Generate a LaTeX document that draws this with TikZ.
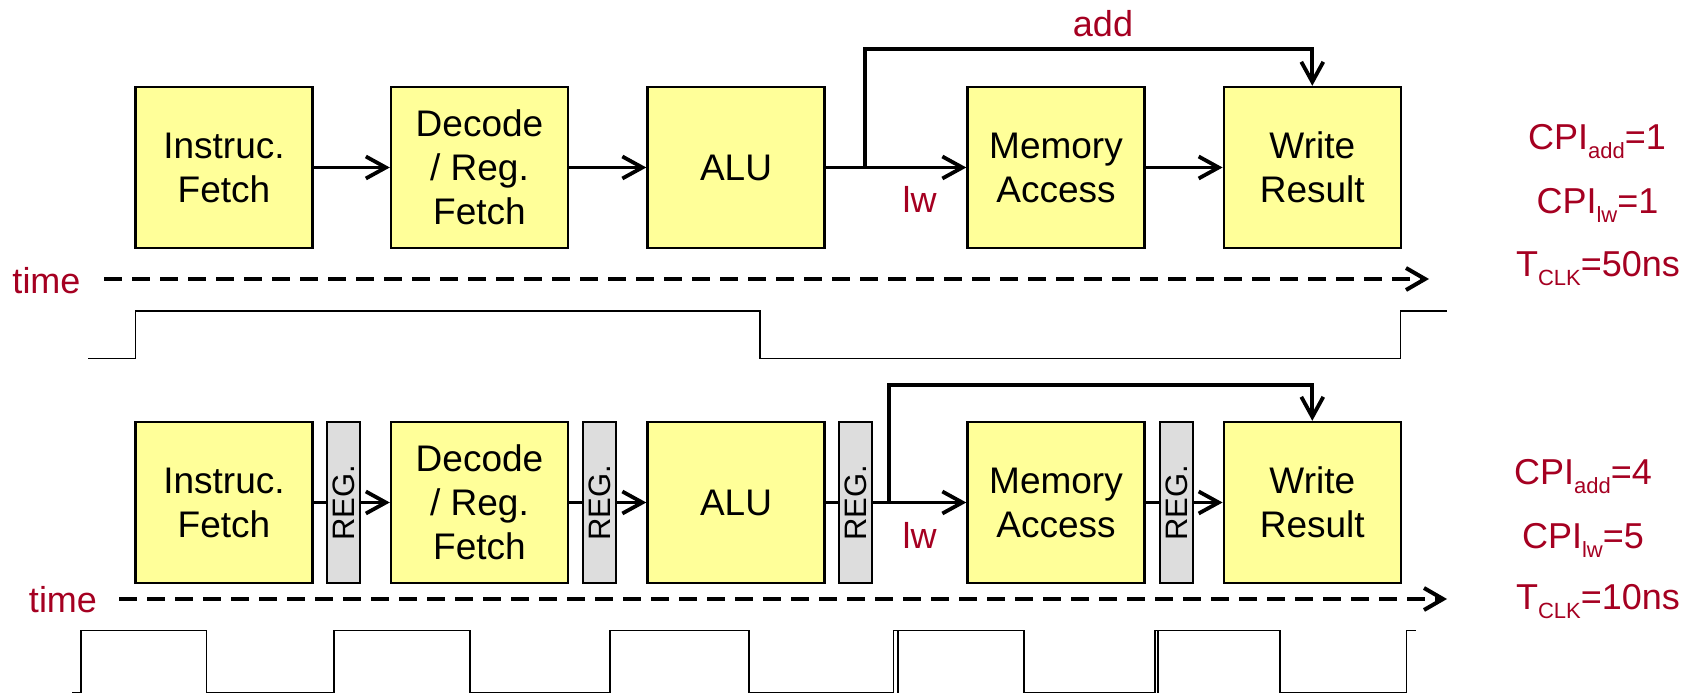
\documentclass[tikz,border=0pt]{standalone}
\usepackage{fontspec}
\setmainfont{Liberation Sans}
\usetikzlibrary{arrows.meta}
\definecolor{stagefill}{RGB}{255,255,153}
\definecolor{regfill}{RGB}{221,221,221}
\definecolor{labelred}{RGB}{165,0,33}
\newcommand{\lowidx}[1]{\raisebox{-4.5pt}{\fontsize{11}{11}\selectfont #1}}
\def\rowA{167.5}
\def\rowB{502.5}

\begin{document}
\begin{tikzpicture}[x=0.5pt, y=-0.5pt,
    stage/.style={draw, line width=1.2pt, fill=stagefill, minimum width=88.5pt, minimum height=80.5pt, inner sep=0pt, align=center, font=\fontsize{18.5}{22}\selectfont},
    reg/.style={draw, line width=1.2pt, fill=regfill, rotate=90, minimum width=80.5pt, minimum height=16.5pt, inner sep=0pt, font=\fontsize{15.5}{15.5}\selectfont},
    lbl/.style={text=labelred, anchor=base, inner sep=0pt, font=\fontsize{18}{18}\selectfont},
    wire/.style={line width=1.9pt},
    arr/.style={line width=1.9pt, -{Straight Barb[length=10pt,width=11pt]}},
    timeline/.style={line width=2pt, dash pattern=on 9pt off 5pt, -{Straight Barb[length=9.5pt,width=11pt]}},
    clock/.style={line width=0.8pt}]
      \useasboundingbox (0,0) rectangle (1703,694);

      \node[stage] (fetchA) at (224, \rowA) {Instruc.\\Fetch};
      \node[stage] (decodeA) at (479.5, \rowA) {Decode\\/ Reg.\\Fetch};
      \node[stage] (aluA) at (736, \rowA) {ALU};
      \node[stage] (memA) at (1056, \rowA) {Memory\\Access};
      \node[stage] (writeA) at (1312.3, \rowA) {Write\\Result};

      \draw[arr] (fetchA) -- (decodeA);
      \draw[arr] (decodeA) -- (aluA);
      \draw[arr] (aluA) -- (memA);
      \draw[arr] (memA) -- (writeA);
      \coordinate (splitA) at (865, \rowA);
      \coordinate (bendA) at (865, 49.3);
      \draw[arr] (splitA) -- (bendA) -| (writeA.north);

      \node[lbl] (addA) at (1103, 36.7) {add};
      \node[lbl] (lwA) at (919.5, 213) {lw};
      \node[lbl] (timeA) at (46.5, 293.3) {time};
      \coordinate (tA0) at (104, 279);
      \coordinate (tA1) at (1429, 279);
      \draw[timeline] (tA0) -- (tA1);

      \node[lbl] (cpiaddA) at (1597, 150) {CPI\lowidx{add}=1};
      \node[lbl] (cpilwA) at (1597.5, 213.3) {CPI\lowidx{lw}=1};
      \node[lbl] (tclkA) at (1598, 276.7) {T\lowidx{CLK}=50ns};

      \draw[clock] (88,358.7) -- (135.5,358.7) -- (135.5,311) -- (760,311) -- (760,358.7)
        -- (1400.5,358.7) -- (1400.5,311) -- (1447,311);

      \node[stage] (fetchB) at (224, \rowB) {Instruc.\\Fetch};
      \node[reg] (regB1) at (343.5, \rowB) {REG.};
      \node[stage] (decodeB) at (479.5, \rowB) {Decode\\/ Reg.\\Fetch};
      \node[reg] (regB2) at (599.5, \rowB) {REG.};
      \node[stage] (aluB) at (736, \rowB) {ALU};
      \node[reg] (regB3) at (855.5, \rowB) {REG.};
      \node[stage] (memB) at (1056, \rowB) {Memory\\Access};
      \node[reg] (regB4) at (1176.5, \rowB) {REG.};
      \node[stage] (writeB) at (1312.3, \rowB) {Write\\Result};

      \draw[wire] (fetchB) -- (regB1);
      \draw[arr] (regB1) -- (decodeB);
      \draw[wire] (decodeB) -- (regB2);
      \draw[arr] (regB2) -- (aluB);
      \draw[wire] (aluB) -- (regB3);
      \draw[arr] (regB3) -- (memB);
      \draw[wire] (memB) -- (regB4);
      \draw[arr] (regB4) -- (writeB);
      \coordinate (splitB) at (889, \rowB);
      \coordinate (bendB) at (889, 384.7);
      \draw[arr] (splitB) -- (bendB) -| (writeB.north);

      \node[lbl] (lwB) at (919.5, 548.3) {lw};
      \node[lbl] (timeB) at (63, 613) {time};
      \coordinate (tB0) at (119, 599);
      \coordinate (tB1) at (1447, 599);
      \draw[timeline] (tB0) -- (tB1);

      \node[lbl] (cpiaddB) at (1583, 485) {CPI\lowidx{add}=4};
      \node[lbl] (cpilwB) at (1583, 548.3) {CPI\lowidx{lw}=5};
      \node[lbl] (tclkB) at (1598, 610) {T\lowidx{CLK}=10ns};

      \draw[clock] (72,692.7) -- (81,692.7) -- (81,630.7) -- (206.5,630.7) -- (206.5,692.7)
        -- (334,692.7) -- (334,630.7) -- (470,630.7) -- (470,692.7)
        -- (610,692.7) -- (610,630.7) -- (749,630.7) -- (749,692.7)
        -- (893.5,692.7) -- (893.5,630.7) -- (1024,630.7) -- (1024,692.7)
        -- (1155,692.7) -- (1155,630.7) -- (1280,630.7) -- (1280,692.7)
        -- (1406.5,692.7) -- (1406.5,630.7) -- (1416,630.7);
      \draw[clock] (897.7,692.7) -- (897.7,631);
      \draw[clock] (1158,692.7) -- (1158,631);
    \end{tikzpicture}
\end{document}
